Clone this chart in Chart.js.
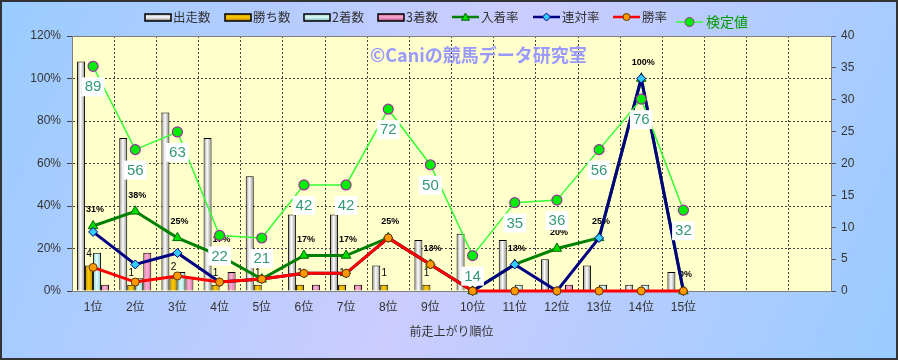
<!DOCTYPE html>
<html>
<head>
<meta charset="utf-8">
<script src="https://cdn.jsdelivr.net/npm/chart.js@4"></script>
<style>
  html, body { margin: 0; padding: 0; }
  #wrap { width: 898px; height: 360px; }
</style>
</head>
<body>
<div id="wrap"><canvas id="chart" width="898" height="360"></canvas></div>
<script>
// data
const categories = ['1位', '2位', '3位', '4位', '5位', '6位', '7位', '8位', '9位', '10位', '11位', '12位', '13位', '14位', '15位', '', '', '']
const starts = [36, 24, 28, 24, 18, 12, 12, 4, 8, 9, 8, 5, 4, 1, 3]
const wins = [4, 1, 2, 1, 1, 1, 1, 1, 1, 0, 0, 0, 0, 0, 0]
const seconds = [6, 2, 3, 0, 0, 0, 0, 0, 0, 0, 1, 0, 1, 1, 0]
const thirds = [1, 6, 2, 3, 0, 1, 1, 0, 0, 0, 0, 1, 0, 0, 0]
const placeRate = [30.6, 37.5, 25, 16.7, 5.6, 16.7, 16.7, 25, 12.5, 0, 12.5, 20, 25, 100, 0]
const rentaiRate = [27.8, 12.5, 17.9, 4.2, 5.6, 8.3, 8.3, 25, 12.5, 0, 12.5, 0, 25, 100, 0]
const winRate = [11.1, 4.2, 7.1, 4.2, 5.6, 8.3, 8.3, 25, 12.5, 0, 0, 0, 0, 0, 0]
const testValue = [89, 56, 63, 22, 21, 42, 42, 72, 50, 14, 35, 36, 56, 76, 32]

const FONT = "'Liberation Sans', 'Noto Sans CJK JP', sans-serif"
const JFONT = "'Noto Sans CJK JP', sans-serif"
const CAT_PCT = 0.76

// cylinder-like gradient across each bar
function barFill(edge, mid, k) {
    return function (c) {
        const chart = c.chart
        const xs = chart.scales.x
        if (!xs || c.dataIndex === undefined || !chart.chartArea) return mid
        const cw = (xs.right - xs.left) / categories.length
        const bw = cw * CAT_PCT / 4
        const x0 = xs.getPixelForValue(c.dataIndex) + (k - 2) * bw
        const g = chart.ctx.createLinearGradient(x0, 0, x0 + bw, 0)
        g.addColorStop(0, edge)
        g.addColorStop(0.45, mid)
        g.addColorStop(1, edge)
        return g
    }
}

const bgPlugin = {
    id: 'bg',
    beforeDraw(chart) {
        const ctx = chart.ctx
        const w = chart.width, h = chart.height
        ctx.save()
        const g = ctx.createLinearGradient(0, 0, w, h)
        g.addColorStop(0, '#99ccff')
        g.addColorStop(0.5, '#ccccff')
        g.addColorStop(1, '#99ccff')
        ctx.fillStyle = g
        ctx.fillRect(0, 0, w, h)
        ctx.strokeStyle = '#333'
        ctx.lineWidth = 2
        ctx.strokeRect(1, 1, w - 2, h - 2)
        const a = chart.chartArea
        ctx.fillStyle = '#ffffcc'
        ctx.fillRect(a.left, a.top, a.right - a.left, a.bottom - a.top)
        ctx.restore()
    },
    beforeDatasetsDraw(chart) {
        const ctx = chart.ctx
        const a = chart.chartArea
        ctx.save()
        ctx.strokeStyle = '#808080'
        ctx.lineWidth = 1
        ctx.strokeRect(a.left + 0.5, a.top + 0.5, a.right - a.left, a.bottom - a.top)
        ctx.font = "bold 18px " + JFONT
        ctx.fillStyle = '#9999ff'
        ctx.textAlign = 'left'
        ctx.textBaseline = 'middle'
        ctx.fillText('©Caniの競馬データ研究室', 370, 55)
        ctx.restore()
    }
}

const labelPlugin = {
    id: 'labels',
    afterDatasetDraw(chart, args) {
        const ctx = chart.ctx
        const ds = chart.data.datasets[args.index]
        const meta = args.meta
        ctx.save()
        if (ds.label === '3着数') {
            const wm = chart.getDatasetMeta(1)
            ctx.font = "10px " + FONT
            ctx.fillStyle = '#000'
            ctx.textAlign = 'center'
            ctx.textBaseline = 'bottom'
            wins.forEach(function (v, i) {
                if (!v) return
                const el = wm.data[i]
                ctx.fillText(String(v), el.x, el.y - 6)
            })
        }
        if (ds.label === '入着率') {
            ctx.font = "bold 9px " + FONT
            ctx.fillStyle = '#000'
            ctx.textAlign = 'center'
            ctx.textBaseline = 'middle'
            placeRate.forEach(function (v, i) {
                const el = meta.data[i]
                ctx.fillText(Math.round(v) + '%', el.x + 2, el.y - 16)
            })
        }
        ctx.restore()
    },
    afterDatasetsDraw(chart) {
        const ctx = chart.ctx
        const meta = chart.getDatasetMeta(7)
        ctx.save()
        ctx.font = "15px " + FONT
        ctx.textAlign = 'center'
        ctx.textBaseline = 'middle'
        testValue.forEach(function (v, i) {
            const el = meta.data[i]
            const t = String(v)
            const tw = ctx.measureText(t).width
            const cy = el.y + 20
            ctx.fillStyle = '#ffffff'
            ctx.fillRect(el.x - tw / 2 - 3, cy - 9, tw + 6, 19)
            ctx.fillStyle = '#339977'
            ctx.fillText(t, el.x, cy + 1)
        })
        ctx.restore()
    }
}

function drawMarker(ctx, style, x, y, fill, stroke, r) {
    ctx.beginPath()
    if (style === 'triangle') {
        ctx.moveTo(x, y - r)
        ctx.lineTo(x + r, y + r * 0.8)
        ctx.lineTo(x - r, y + r * 0.8)
        ctx.closePath()
    } else if (style === 'diamond') {
        ctx.moveTo(x, y - r)
        ctx.lineTo(x + r, y)
        ctx.lineTo(x, y + r)
        ctx.lineTo(x - r, y)
        ctx.closePath()
    } else {
        ctx.arc(x, y, r, 0, Math.PI * 2)
    }
    ctx.fillStyle = fill
    ctx.fill()
    ctx.lineWidth = 1
    ctx.strokeStyle = stroke
    ctx.stroke()
}

const legendPlugin = {
    id: 'myLegend',
    afterDraw(chart) {
        const ctx = chart.ctx
        ctx.save()
        const y = 17
        const bars = [
            [145, '出走数', '#808080', '#ffffff'],
            [225, '勝ち数', '#b08000', '#ffcc00'],
            [304, '2着数', '#80b0b0', '#ddffff'],
            [378, '3着数', '#b05080', '#ffaad4']
        ]
        ctx.textBaseline = 'middle'
        ctx.textAlign = 'left'
        bars.forEach(function (b) {
            const g = ctx.createLinearGradient(0, y - 4, 0, y + 4)
            g.addColorStop(0, b[2])
            g.addColorStop(0.5, b[3])
            g.addColorStop(1, b[2])
            ctx.fillStyle = g
            ctx.fillRect(b[0], y - 3, 26, 7)
            ctx.strokeStyle = '#000'
            ctx.lineWidth = 1.5
            ctx.strokeRect(b[0], y - 3, 26, 7)
            ctx.font = "12.5px " + JFONT
            ctx.fillStyle = '#333'
            ctx.fillText(b[1], b[0] + 28, y)
        })
        const lines = [
            [452, '入着率', '#008000', 'triangle', '#00dd00', '#006600', 4, y],
            [533, '連対率', '#000080', 'diamond', '#33ccff', '#000080', 4, y],
            [613, '勝率', '#ff0000', 'circle', '#ff9900', '#663300', 3.5, y]
        ]
        lines.forEach(function (l) {
            ctx.strokeStyle = l[2]
            ctx.lineWidth = 2.5
            ctx.beginPath()
            ctx.moveTo(l[0], l[7])
            ctx.lineTo(l[0] + 27, l[7])
            ctx.stroke()
            drawMarker(ctx, l[3], l[0] + 13.5, l[7], l[4], l[5], l[6])
            ctx.font = "12.5px " + JFONT
            ctx.fillStyle = '#333'
            ctx.fillText(l[1], l[0] + 29, l[7])
        })
        // 検定値
        const ky = 22
        ctx.strokeStyle = '#33ff33'
        ctx.lineWidth = 1.5
        ctx.beginPath()
        ctx.moveTo(676, ky)
        ctx.lineTo(703, ky)
        ctx.stroke()
        drawMarker(ctx, 'circle', 689.5, ky, '#00ee00', '#993399', 4.5)
        ctx.font = "14px " + JFONT
        ctx.fillStyle = '#009900'
        ctx.fillText('検定値', 706, ky)
        ctx.restore()
    }
}

const barCommon = {
    type: 'bar',
    yAxisID: 'y1',
    borderColor: '#000',
    borderWidth: 1,
    categoryPercentage: CAT_PCT,
    barPercentage: 1,
    order: 10
}

const ctx = document.getElementById('chart')
const myChart = new Chart(ctx, {
    type: 'bar',
    data: {
        labels: categories,
        datasets: [
            Object.assign({ label: '出走数', data: starts, backgroundColor: barFill('#8a8a8a', '#ffffff', 0) }, barCommon),
            Object.assign({ label: '勝ち数', data: wins, backgroundColor: barFill('#c08c00', '#ffcc00', 1) }, barCommon),
            Object.assign({ label: '2着数', data: seconds, backgroundColor: barFill('#88c8c8', '#e0ffff', 2) }, barCommon),
            Object.assign({ label: '3着数', data: thirds, backgroundColor: barFill('#d070a0', '#ffb0d8', 3) }, barCommon),
            {
                type: 'line', label: '入着率', data: placeRate, yAxisID: 'y',
                borderColor: '#008000', borderWidth: 3,
                pointStyle: 'triangle', pointRadius: 5.5, pointBackgroundColor: '#00dd00',
                pointBorderColor: '#006600', pointBorderWidth: 1, clip: false, order: 3
            },
            {
                type: 'line', label: '連対率', data: rentaiRate, yAxisID: 'y',
                borderColor: '#000080', borderWidth: 3,
                pointStyle: 'rectRot', pointRadius: 4.5, pointBackgroundColor: '#33ccff',
                pointBorderColor: '#000080', pointBorderWidth: 1, clip: false, order: 2
            },
            {
                type: 'line', label: '勝率', data: winRate, yAxisID: 'y',
                borderColor: '#ff0000', borderWidth: 3,
                pointStyle: 'circle', pointRadius: 4, pointBackgroundColor: '#ff9900',
                pointBorderColor: '#663300', pointBorderWidth: 1, clip: false, order: 1
            },
            {
                type: 'line', label: '検定値', data: testValue, yAxisID: 'y2',
                borderColor: '#33ff33', borderWidth: 1.5,
                pointStyle: 'circle', pointRadius: 5, pointBackgroundColor: '#00ee00',
                pointBorderColor: '#993399', pointBorderWidth: 1.2, clip: false, order: 0
            }
        ]
    },
    options: {
        responsive: false,
        animation: false,
        layout: { padding: { top: 36, left: 0, right: 0, bottom: 0 } },
        plugins: {
            legend: { display: false },
            tooltip: { enabled: false }
        },
        scales: {
            x: {
                grid: { color: '#444', lineWidth: 1, drawTicks: false, offset: true },
                border: { display: true, color: '#808080', dash: [2, 2] },
                ticks: { font: { family: FONT, size: 12 }, color: '#333', padding: 9, maxRotation: 0, autoSkip: false },
                title: { display: true, text: '前走上がり順位', font: { family: JFONT, size: 12 }, color: '#333', padding: { top: 0, bottom: 21 } },
                afterFit: function (s) { s.height = 69 }
            },
            y: {
                position: 'left',
                min: 0, max: 120,
                grid: { color: '#444', lineWidth: 1, tickLength: 5 },
                border: { display: true, color: '#808080', dash: [2, 2] },
                ticks: {
                    stepSize: 20, padding: 6, color: '#333', font: { family: FONT, size: 12 },
                    callback: function (v) { return v + '%' }
                },
                afterFit: function (s) { s.width = 72 }
            },
            y1: {
                position: 'right',
                min: 0, max: 40,
                grid: { drawOnChartArea: false, color: '#555', tickLength: 5 },
                border: { display: true, color: '#808080' },
                ticks: { stepSize: 5, padding: 5, color: '#333', font: { family: FONT, size: 12 } },
                afterFit: function (s) { s.width = 67 }
            },
            y2: {
                display: false,
                min: 0, max: 101
            }
        }
    },
    plugins: [bgPlugin, labelPlugin, legendPlugin]
})
</script>
</body>
</html>
